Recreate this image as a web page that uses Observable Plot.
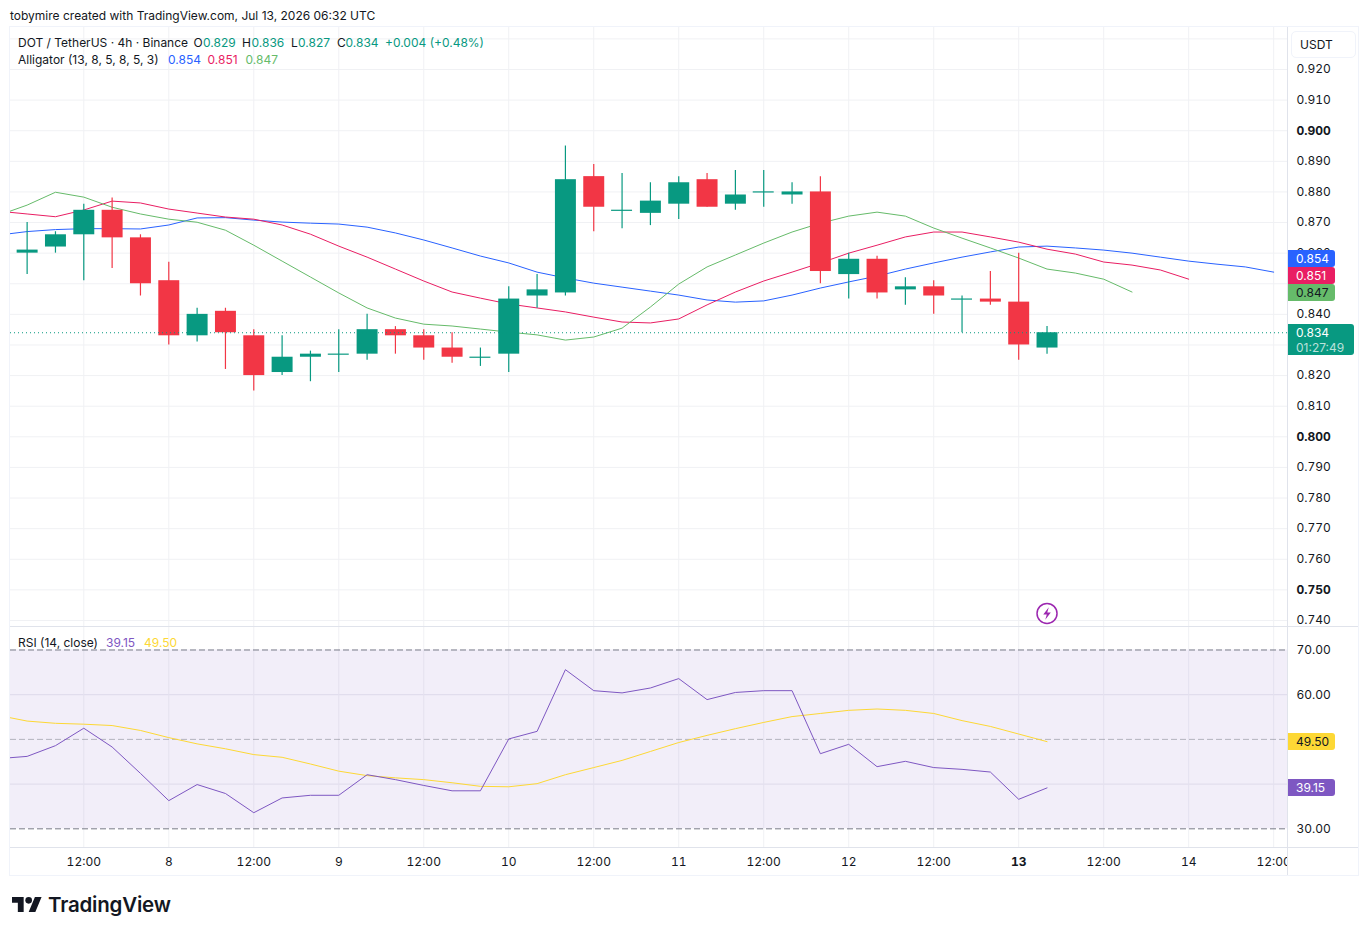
<!DOCTYPE html>
<html>
<head>
<meta charset="utf-8">
<script src="https://cdn.jsdelivr.net/npm/d3@7"></script>
<script src="https://cdn.jsdelivr.net/npm/@observablehq/plot@0.6"></script>
<style>
html,body{margin:0;padding:0;background:#fff;}
body{position:relative;width:1369px;height:935px;overflow:hidden;font-family:Inter,"Noto Sans",sans-serif;color:#131722;}
.abs{position:absolute;white-space:nowrap;}
.leg{position:absolute;white-space:nowrap;font-size:12px;line-height:16px;}
.frame{position:absolute;background:#f0f3fa;}
.div{position:absolute;background:#e0e3eb;}
.tag{position:absolute;left:1288px;width:47px;height:17px;line-height:17px;font-size:12px;border-radius:0 3px 3px 0;color:#fff;text-indent:8px;}
svg text{font-family:Inter,"Noto Sans",sans-serif;}
</style>
</head>
<body>
<div class="leg" style="left:10px;top:8px;">tobymire created with TradingView.com, Jul 13, 2026 06:32 UTC</div>
<div id="price" class="abs" style="left:10px;top:27px;"></div>
<div id="rsi" class="abs" style="left:10px;top:627px;"></div>
<div id="over"></div>
<span class="leg" style="left:18px;top:35px;">DOT / TetherUS · 4h · Binance</span>
<span class="leg" style="left:193.5px;top:35px;">O</span><span class="leg" style="left:203px;top:35px;color:#089981">0.829</span>
<span class="leg" style="left:242px;top:35px;">H</span><span class="leg" style="left:251.5px;top:35px;color:#089981">0.836</span>
<span class="leg" style="left:291px;top:35px;">L</span><span class="leg" style="left:298px;top:35px;color:#089981">0.827</span>
<span class="leg" style="left:337px;top:35px;">C</span><span class="leg" style="left:345.5px;top:35px;color:#089981">0.834</span>
<span class="leg" style="left:385px;top:35px;color:#089981">+0.004 (+0.48%)</span>
<span class="leg" style="left:18px;top:52px;">Alligator (13, 8, 5, 8, 5, 3)</span>
<span class="leg" style="left:168px;top:52px;color:#2962FF">0.854</span>
<span class="leg" style="left:207.5px;top:52px;color:#E91E63">0.851</span>
<span class="leg" style="left:245.5px;top:52px;color:#66BB6A">0.847</span>
<span class="leg" style="left:18px;top:635px;">RSI (14, close)</span>
<span class="leg" style="left:106px;top:635px;color:#7E57C2">39.15</span>
<span class="leg" style="left:144px;top:635px;color:#FDD835">49.50</span>
<svg class="abs" style="left:12px;top:897px;" width="30" height="15" viewBox="0 4 36 18"><path fill="#131722" d="M14 22H7V11H0V4h14v18zM28 22h-8l7.5-18h8L28 22z"/><circle fill="#131722" cx="20" cy="8" r="4"/></svg>
<div class="abs" style="left:48px;top:892px;font-size:20.5px;line-height:26px;font-weight:600;letter-spacing:-0.2px;">TradingView</div>

<script>
// Candles: Jul 7 04:00 onward, one per 4 hours
const opens  = [.860,.862,.866,.874,.865,.851,.833,.841,.833,.821,.826,.827,.827,.835,.833,.829,.826,.827,.846,.847,.885,.874,.873,.876,.884,.876,.880,.879,.880,.853,.858,.848,.849,.845,.845,.844,.829];
const highs  = [.870,.867,.876,.878,.866,.857,.842,.842,.835,.833,.828,.835,.840,.836,.835,.834,.829,.849,.853,.895,.889,.886,.883,.885,.886,.887,.887,.883,.885,.860,.859,.852,.851,.846,.854,.860,.836];
const lows   = [.853,.860,.851,.855,.846,.830,.831,.822,.815,.820,.818,.821,.825,.827,.825,.824,.823,.821,.842,.846,.867,.868,.869,.871,.875,.874,.875,.876,.850,.845,.845,.843,.840,.834,.843,.825,.827];
const closes = [.861,.866,.874,.865,.850,.833,.840,.834,.820,.826,.827,.827,.835,.833,.829,.826,.826,.845,.848,.884,.875,.874,.877,.883,.875,.879,.880,.880,.854,.858,.847,.849,.846,.845,.844,.830,.834];

// Alligator, starting one bar before the first candle
const jaw   = [.8659,.86705,.8677,.8680,.8680,.8679,.8692,.8715,.8716,.8708,.87015,.8698,.8695,.8685,.8666,.8643,.8617,.85905,.8568,.8538,.8519,.8502,.8489,.8476,.8463,.8447,.8440,.8444,.8463,.8486,.8506,.8525,.8548,.8568,.8587,.8604,.8620,.8623,.8617,.8610,.8600,.8587,.8574,.8564,.8555,.8538];
const teeth = [.8737,.8728,.8719,.8741,.8770,.8764,.8744,.8731,.8718,.8711,.8692,.8662,.8623,.8587,.8548,.8509,.8473,.8453,.8434,.8421,.8408,.8391,.8375,.8372,.8385,.8431,.8473,.8509,.8538,.8568,.8600,.8626,.8653,.8669,.8669,.8653,.8636,.8613,.8597,.8571,.8561,.8545,.8515];
const lips  = [.8724,.8757,.8799,.8783,.8750,.8728,.8711,.8701,.8675,.8626,.8574,.8522,.8470,.8421,.8388,.8368,.8362,.8352,.8342,.8333,.8316,.8326,.8355,.8424,.8499,.8555,.8594,.8633,.8669,.8698,.8721,.8734,.8721,.8682,.8649,.8617,.8584,.8548,.8535,.8515,.8473];

// RSI and its moving average, starting one bar before the first candle
const rsi   = [45.7,46.2,48.6,52.5,48.3,42.4,36.3,39.9,37.9,33.6,36.9,37.5,37.5,42.1,41,39.7,38.5,38.5,50.1,51.8,65.6,60.9,60.4,61.5,63.6,58.9,60.5,60.9,60.9,46.8,48.9,43.9,45.1,43.7,43.3,42.7,36.6,39.15];
const rsiMa = [55.35,54.1,53.6,53.4,53.1,52,50.4,49,47.9,46.6,46,44.5,42.9,41.9,41.4,41,40.3,39.5,39.4,40.1,42.1,43.7,45.3,47.3,49.3,50.9,52.4,53.8,55.1,55.8,56.5,56.8,56.5,55.8,54.2,52.9,51.2,49.5];

// Axes
const priceGrid   = [.93,.92,.91,.90,.89,.88,.87,.86,.85,.84,.83,.82,.81,.80,.79,.78,.77,.76,.75,.74];
const priceLabels = [.92,.91,.89,.88,.87,.86,.84,.82,.81,.79,.78,.77,.76,.74];
const priceBold   = [.90,.80,.75];
const rsiGrid     = [60,40];
const rsiLabels   = [70,60,30];
const timeBars    = [2,5,8,11,14,17,20,23,26,29,32,35,38,41,44];
const timeLabels  = ["12:00","8","12:00","9","12:00","10","12:00","11","12:00","12","12:00","13","12:00","14","12:00"];
const timeBoldBar = 35;
const lastPrice = .834;
const newsBar = 36, newsPrice = .7423;
const tagValues = {jaw:.854, teeth:.851, lips:.847, close:.834, rsi:39.15, ma:49.50};

const GREEN="#089981", RED="#F23645", GRID="#f0f1f4";
const xDomain=[-0.587,44.488];
const candles = opens.map((o,i)=>({i,o,h:highs[i],l:lows[i],c:closes[i],col:closes[i]>=o?GREEN:RED}));
const series = a => a.map((v,k)=>({i:k-1,v}));
const bolt = {draw(ctx,size){const s=Math.sqrt(size)/8;
  [[1.6,-5.6],[-3.4,0.9],[-0.2,0.9],[-1.6,5.6],[3.4,-0.9],[0.2,-0.9]].forEach((p,k)=>k?ctx.lineTo(p[0]*s,p[1]*s):ctx.moveTo(p[0]*s,p[1]*s));
  ctx.closePath();}};
const timeLabel = i => timeLabels[timeBars.indexOf(i)];

const pricePlot = Plot.plot({
  width:1348,height:599,marginTop:0,marginBottom:0,marginLeft:0,marginRight:71,
  style:{background:"transparent",fontSize:"12px",color:"#131722"},
  x:{domain:xDomain,axis:null},
  y:{domain:[.73803,.93372]},
  color:{type:"identity"},
  marks:[
    Plot.ruleY(priceGrid,{stroke:GRID}),
    Plot.ruleX(timeBars,{stroke:GRID}),
    Plot.axisY({anchor:"right",ticks:priceLabels,tickSize:0,tickPadding:9,tickFormat:d3.format(".3f"),label:null}),
    Plot.axisY({anchor:"right",ticks:priceBold,tickSize:0,tickPadding:9,tickFormat:d3.format(".3f"),label:null,fontWeight:"bold"}),
    Plot.line(series(jaw),{x:"i",y:"v",stroke:"#2962FF",strokeWidth:1,clip:true}),
    Plot.line(series(teeth),{x:"i",y:"v",stroke:"#E91E63",strokeWidth:1,clip:true}),
    Plot.line(series(lips),{x:"i",y:"v",stroke:"#66BB6A",strokeWidth:1,clip:true}),
    Plot.ruleX(candles,{x:"i",y1:"l",y2:"h",stroke:"col",strokeWidth:1.2}),
    Plot.rect(candles,{x1:d=>d.i-.37,x2:d=>d.i+.37,y1:"o",y2:"c",fill:"col",dx:0.5}),
    Plot.ruleY(candles.filter(d=>d.o===d.c),{y:"c",x1:d=>d.i-.37,x2:d=>d.i+.37,stroke:"col",strokeWidth:1.2}),
    Plot.ruleY([lastPrice],{stroke:GREEN,strokeDasharray:"1 3",strokeWidth:1}),
    Plot.dot([{i:newsBar,p:newsPrice}],{x:"i",y:"p",r:10,stroke:"#9C27B0",strokeWidth:1.5,fill:"white"}),
    Plot.dot([{i:newsBar,p:newsPrice}],{x:"i",y:"p",r:5,symbol:bolt,fill:"#9C27B0",stroke:"none"})
  ]
});
document.getElementById("price").append(pricePlot);

const rsiPlot = Plot.plot({
  width:1348,height:248,marginTop:0,marginBottom:28,marginLeft:0,marginRight:71,
  style:{background:"transparent",fontSize:"12px",color:"#131722"},
  x:{domain:xDomain},
  y:{domain:[25.82,75.03]},
  marks:[
    Plot.ruleY(rsiGrid,{stroke:"#e9e9ef"}),
    Plot.ruleX(timeBars,{stroke:GRID}),
    Plot.rect([{y1:30,y2:70}],{x1:xDomain[0],x2:xDomain[1],y1:"y1",y2:"y2",fill:"#7E57C2",fillOpacity:.1}),
    Plot.ruleY([70,30],{stroke:"#787B86",strokeDasharray:"6 3"}),
    Plot.ruleY([50],{stroke:"#787B86",strokeOpacity:.5,strokeDasharray:"6 3"}),
    Plot.axisY({anchor:"right",ticks:rsiLabels,tickSize:0,tickPadding:9,tickFormat:d3.format(".2f"),label:null}),
    Plot.axisX({anchor:"bottom",ticks:timeBars.filter(b=>b!==timeBoldBar),tickSize:0,tickPadding:10,tickFormat:timeLabel,label:null}),
    Plot.axisX({anchor:"bottom",ticks:[timeBoldBar],tickSize:0,tickPadding:10,tickFormat:timeLabel,label:null,fontWeight:"bold"}),
    Plot.line(series(rsiMa),{x:"i",y:"v",stroke:"#FDD835",strokeWidth:1,clip:true}),
    Plot.line(series(rsi),{x:"i",y:"v",stroke:"#7E57C2",strokeWidth:1,clip:true})
  ]
});
document.getElementById("rsi").append(rsiPlot);

const over = document.getElementById("over");
const add = (cls,css,html="") => {const e=document.createElement("div");e.className=cls;e.style.cssText=css;e.innerHTML=html;over.append(e);return e;};
add("abs","left:1288px;top:848px;width:70px;height:27px;background:#fff;");
add("frame","left:9px;top:26px;width:1350px;height:1px;");
add("frame","left:9px;top:875px;width:1350px;height:1px;");
add("frame","left:9px;top:26px;width:1px;height:850px;");
add("frame","left:1358px;top:26px;width:1px;height:850px;");
add("div","left:10px;top:626px;width:1348px;height:1px;");
add("div","left:10px;top:847px;width:1348px;height:1px;");
add("div","left:1287px;top:27px;width:1px;height:848px;");
add("abs","left:1291px;top:31px;width:63px;height:25px;border:1px solid #f0f3fa;border-radius:5px;font-size:12px;line-height:25px;text-indent:8px;","USDT");
const yP = v => 27 + pricePlot.scale("y").apply(v);
const yR = v => 627 + rsiPlot.scale("y").apply(v);
const fmt3 = d3.format(".3f"), fmt2 = d3.format(".2f");
const lipsTop = yP(tagValues.lips) - 8.5;
add("tag",`top:${lipsTop-34}px;background:#2962FF;`,fmt3(tagValues.jaw));
add("tag",`top:${lipsTop-17}px;background:#E91E63;`,fmt3(tagValues.teeth));
add("tag",`top:${lipsTop}px;background:#66BB6A;color:#131722;`,fmt3(tagValues.lips));
add("tag",`top:${yP(tagValues.close)-8.5}px;width:66px;height:31px;background:${GREEN};`,
  `<div style="line-height:18px;height:16px">${fmt3(tagValues.close)}</div><div style="line-height:15px;color:rgba(255,255,255,.72)">01:27:49</div>`);
add("tag",`top:${yR(tagValues.ma)-8.5}px;background:#FDD835;color:#131722;`,fmt2(tagValues.ma));
add("tag",`top:${yR(tagValues.rsi)-8.5}px;background:#7E57C2;`,fmt2(tagValues.rsi));
</script>
</body>
</html>
